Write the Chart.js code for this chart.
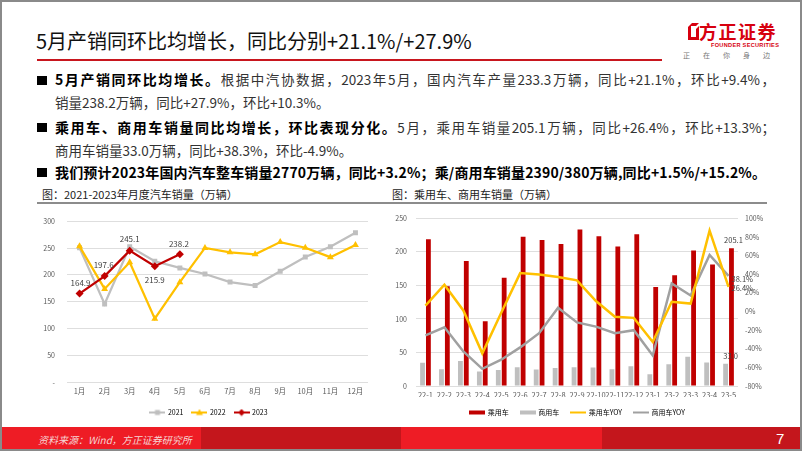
<!DOCTYPE html>
<html lang="zh-CN">
<head>
<meta charset="utf-8">
<title>5月产销同环比均增长</title>
<script src="https://cdn.jsdelivr.net/npm/chart.js@4.4.1/dist/chart.umd.min.js"></script>
<style>
  html, body { margin: 0; padding: 0; }
  body { width: 802px; height: 451px; position: relative; overflow: hidden; background: #fff;
         font-family: "Noto Sans CJK SC", "Noto Sans", sans-serif; color: #262626; }
  .frame { position: absolute; left: 0; top: 0; width: 802px; height: 451px; box-sizing: border-box;
           border: 2px solid #8a8a8a; pointer-events: none; z-index: 9; }
  .title { position: absolute; left: 36px; top: 27px; font-size: 20px; line-height: 28px; color: #111; white-space: nowrap; }
  .rule { position: absolute; left: 37px; top: 59px; width: 625px; height: 2px; background: #c8161e; }
  .logo-mark { position: absolute; left: 688px; top: 23px; }
  .logo-cn { position: absolute; left: 699px; top: 20px; font-size: 18px; line-height: 22px; font-weight: 700; color: #d7000f; letter-spacing: 1.5px; white-space: nowrap; }
  .logo-en { position: absolute; left: 711px; top: 42px; font: 700 5.6px "Liberation Sans", Arial, sans-serif; color: #d7000f; white-space: nowrap; letter-spacing: 0.3px; }
  .logo-slogan { position: absolute; left: 683px; top: 51px; font-size: 7px; line-height: 9px; color: #777; letter-spacing: 13px; white-space: nowrap; }
  .bul { position: absolute; left: 55px; font-size: 13.5px; line-height: 23px; white-space: nowrap; color: #333; }
  .bul b { color: #000; font-weight: 700; font-size: 14px; }
  .just { width: 720px; text-align: justify; text-align-last: justify; }
  .sq { position: absolute; left: 37px; width: 10px; height: 9px; background: #000; }
  .ctitle { position: absolute; top: 186px; font-size: 11px; line-height: 16px; color: #222; white-space: nowrap; }
  .cline { position: absolute; top: 202px; height: 2px; background: #8c8c8c; }
  .footer { position: absolute; left: 0; top: 427px; width: 802px; height: 23px; display: flex; }
  .footer div { flex: 1; }
  .f1 { background: #ee1c25; } .f2 { background: #c4161c; }
  .src { position: absolute; left: 38px; top: 433px; font-size: 10px; line-height: 14px; font-style: italic; color: #f7d4d4; white-space: nowrap; }
  .page { position: absolute; left: 776px; top: 429px; font: 15px/19px "Liberation Sans", Arial, sans-serif; color: #fff; }
  canvas { position: absolute; z-index: 3; }
</style>
</head>
<body>
<div class="title">5月产销同环比均增长，同比分别+21.1%/+27.9%</div>
<div class="rule"></div>

<svg class="logo-mark" width="11" height="17" viewBox="0 0 11 17">
  <path d="M4 0 H11 L8 3 H3 V14 H8 V6 L11 3 V17 H0 V4 Z" fill="#d7000f"/>
</svg>
<div class="logo-cn">方正证券</div>
<div class="logo-en">FOUNDER SECURITIES</div>
<div class="logo-slogan">正在你身边</div>

<div class="sq" style="top:76px"></div>
<div class="bul just" style="top:68px"><b>5月产销同环比均增长。</b>根据中汽协数据，2023年5月，国内汽车产量233.3万辆，同比+21.1%，环比+9.4%，</div>
<div class="bul" style="top:91px">销量238.2万辆，同比+27.9%，环比+10.3%。</div>
<div class="sq" style="top:123px"></div>
<div class="bul just" style="top:116px"><b>乘用车、商用车销量同比均增长，环比表现分化。</b>5月，乘用车销量205.1万辆，同比+26.4%，环比+13.3%；</div>
<div class="bul" style="top:139px">商用车销量33.0万辆，同比+38.3%，环比-4.9%。</div>
<div class="sq" style="top:168px"></div>
<div class="bul" style="top:161px;letter-spacing:0.15px"><b>我们预计2023年国内汽车整车销量2770万辆，同比+3.2%；乘/商用车销量2390/380万辆,同比+1.5%/+15.2%。</b></div>

<div class="ctitle" style="left:42px">图：2021-2023年月度汽车销量（万辆）</div>
<div class="cline" style="left:37px;width:343px"></div>
<div class="ctitle" style="left:392px">图：乘用车、商用车销量（万辆）</div>
<div class="cline" style="left:380px;width:387px"></div>

<div class="footer"><div class="f1"></div><div class="f2"></div><div class="f1"></div><div class="f2"></div></div>
<div class="src">资料来源：Wind，方正证券研究所</div>
<div class="page">7</div>

<canvas id="monthly" width="378" height="221" style="left:20px;top:205px"></canvas>
<canvas id="split" width="395" height="221" style="left:380px;top:205px"></canvas>
<div class="frame"></div>

<script>
// 左图：月度汽车销量（万辆）
const monthLabels = ["1月", "2月", "3月", "4月", "5月", "6月", "7月", "8月", "9月", "10月", "11月", "12月"];
const sales2021 = [250.3, 145.5, 252.6, 225.2, 212.8, 201.5, 186.4, 179.9, 206.7, 233.1, 252.2, 278.6];
const sales2022 = [253.1, 173.7, 223.4, 118.1, 186.2, 250.2, 242.0, 238.3, 261.0, 250.5, 232.9, 255.6];
const sales2023 = [164.9, 197.6, 245.1, 215.9, 238.2];
const monthlyTicks = [0, 50, 100, 150, 200, 250, 300];

// 右图：乘用车、商用车销量（万辆）及同比
const periodLabels = ["22-1", "22-2", "22-3", "22-4", "22-5", "22-6", "22-7", "22-8", "22-9", "22-10", "22-11", "22-12",
                      "23-1", "23-2", "23-3", "23-4", "23-5"];
const passengerSales = [218.6, 148.7, 186.3, 96.5, 161.2, 222.2, 217.4, 211.6, 233.2, 223.1, 207.9, 226.2, 147.4, 165.1, 201.7, 180.9, 205.1];
const commercialSales = [34.5, 25.0, 37.1, 21.6, 24.0, 28.0, 24.6, 26.7, 27.8, 27.4, 25.0, 29.4, 17.5, 32.5, 43.4, 35.0, 33.0];
const passengerYoy = [6.3, 28.6, 1.0, -45.0, -1.4, 41.1, 39.7, 36.9, 33.4, 11.2, -5.8, -6.9, -32.7, 10.4, 8.4, 86.7, 26.4];
const commercialYoy = [-25.7, -17.0, -43.0, -61.6, -51.8, -38.6, -23.3, 3.9, -11.8, -16.3, -23.3, -20.1, -47.3, 30.0, 17.1, 60.5, 38.1];
const splitTicks = [0, 50, 100, 150, 200, 250];
const yoyTicks = [-80, -60, -40, -20, 0, 20, 40, 60, 80, 100];

const FONT = '"Noto Sans CJK SC", "Noto Sans", sans-serif';
const GRID = "#dedede";
const TICK = "#595959";
const RED = "#c00000";
const LIGHT_GRAY = "#bfbfbf";
const YELLOW = "#ffc000";
const DARK_GRAY = "#a0a0a0";

// 图例小图标（线+标记 / 色块）
function legendIcon(kind, color, marker) {
    const c = document.createElement("canvas");
    c.width = 16;
    c.height = 8;
    const g = c.getContext("2d");
    g.fillStyle = color;
    g.strokeStyle = color;
    if (kind === "bar") {
        g.fillRect(0, 2, 16, 4);
        return c;
    }
    g.lineWidth = 2;
    g.beginPath();
    g.moveTo(0, 4);
    g.lineTo(16, 4);
    g.stroke();
    g.beginPath();
    if (marker === "rect") {
        g.rect(5.5, 1.5, 5, 5);
    } else if (marker === "triangle") {
        g.moveTo(8, 0.5); g.lineTo(11.5, 6.5); g.lineTo(4.5, 6.5); g.closePath();
    } else if (marker === "diamond") {
        g.moveTo(8, 0.5); g.lineTo(11.5, 4); g.lineTo(8, 7.5); g.lineTo(4.5, 4); g.closePath();
    }
    g.fill();
    return c;
}

// 数据标签
const valueTags = {
    id: "valueTags",
    afterDatasetsDraw(chart, args, opts) {
        const ctx = chart.ctx;
        ctx.save();
        ctx.font = opts.font;
        ctx.fillStyle = opts.color;
        ctx.textBaseline = "middle";
        opts.items.forEach(it => {
            const el = chart.getDatasetMeta(it.ds).data[it.i];
            const v = chart.data.datasets[it.ds].data[it.i];
            ctx.textAlign = it.align || "center";
            ctx.fillText(v.toFixed(1) + (it.suffix || ""), el.x + (it.dx || 0), el.y + (it.dy || 0));
        });
        ctx.restore();
    }
};

function fixedTicks(values) {
    return scale => { scale.ticks = values.map(v => ({ value: v })); };
}

const tickFont = { family: FONT, size: 7 };

new Chart(document.getElementById("monthly"), {
    type: "line",
    data: {
        labels: monthLabels,
        datasets: [
            { label: "2021", data: sales2021, borderColor: LIGHT_GRAY, backgroundColor: LIGHT_GRAY, borderWidth: 2.25,
              pointStyle: "rect", pointRadius: 3.5, pointBorderWidth: 0, tension: 0, order: 3 },
            { label: "2022", data: sales2022, borderColor: YELLOW, backgroundColor: YELLOW, borderWidth: 2.25,
              pointStyle: "triangle", pointRadius: 4, pointBorderWidth: 0, tension: 0, order: 2 },
            { label: "2023", data: sales2023, borderColor: RED, backgroundColor: RED, borderWidth: 2.25,
              pointStyle: "rectRot", pointRadius: 4, pointBorderWidth: 0, tension: 0, order: 1 }
        ]
    },
    options: {
        responsive: false,
        animation: false,
        events: [],
        layout: { padding: { top: 11, right: 0, left: 0, bottom: 0 } },
        scales: {
            x: {
                offset: true,
                grid: { display: false, drawTicks: false },
                border: { display: false },
                ticks: { color: TICK, font: { family: FONT, size: 7.5 }, padding: 4.5, maxRotation: 0, autoSkip: false },
                afterFit(s) { s.height = 18; }
            },
            y: {
                min: 0, max: 300,
                afterBuildTicks: fixedTicks(monthlyTicks),
                grid: { color: GRID, drawTicks: false },
                border: { display: false },
                ticks: { color: TICK, font: tickFont, padding: 12, callback: v => v === 0 ? "-" : v },
                afterFit(s) { s.width = 47; }
            },
            // 右侧留白（不显示），让图例与原图一样居中在绘图区下方
            spacer: {
                position: "right",
                grid: { display: false, drawTicks: false },
                border: { display: false },
                ticks: { display: false },
                afterFit(s) { s.width = 30; }
            }
        },
        plugins: {
            tooltip: { enabled: false },
            legend: {
                position: "bottom",
                labels: {
                    usePointStyle: true, pointStyleWidth: 14, padding: 9, color: TICK, font: { family: FONT, size: 7 },
                    generateLabels: () => [
                        { text: "2021", pointStyle: legendIcon("line", LIGHT_GRAY, "rect"), lineWidth: 0, hidden: false, datasetIndex: 0 },
                        { text: "2022", pointStyle: legendIcon("line", YELLOW, "triangle"), lineWidth: 0, hidden: false, datasetIndex: 1 },
                        { text: "2023", pointStyle: legendIcon("line", RED, "diamond"), lineWidth: 0, hidden: false, datasetIndex: 2 }
                    ]
                }
            },
            valueTags: {
                font: "8px " + FONT,
                color: "#404040",
                items: [
                    { ds: 2, i: 0, dx: 1, dy: -11 },
                    { ds: 2, i: 1, dx: -1, dy: -11 },
                    { ds: 2, i: 2, dx: 0, dy: -12 },
                    { ds: 2, i: 3, dx: 0, dy: 14 },
                    { ds: 2, i: 4, dx: -1, dy: -10 }
                ]
            }
        }
    },
    plugins: [valueTags]
});

new Chart(document.getElementById("split"), {
    type: "bar",
    data: {
        labels: periodLabels,
        datasets: [
            { type: "bar", label: "乘用车", data: passengerSales, backgroundColor: RED, yAxisID: "y", order: 4,
              categoryPercentage: 0.62, barPercentage: 0.82 },
            { type: "bar", label: "商用车", data: commercialSales, backgroundColor: LIGHT_GRAY, yAxisID: "y", order: 3,
              categoryPercentage: 0.62, barPercentage: 0.82 },
            { type: "line", label: "乘用车YOY", data: passengerYoy, borderColor: YELLOW, borderWidth: 2.5,
              pointRadius: 0, tension: 0, yAxisID: "y1", order: 1 },
            { type: "line", label: "商用车YOY", data: commercialYoy, borderColor: DARK_GRAY, borderWidth: 2.5,
              pointRadius: 0, tension: 0, yAxisID: "y1", order: 2 }
        ]
    },
    options: {
        responsive: false,
        animation: false,
        events: [],
        layout: { padding: { top: 8, right: 0, left: 0, bottom: 0 } },
        scales: {
            x: {
                grid: { display: false, drawTicks: false },
                border: { display: false },
                ticks: { color: TICK, font: { family: FONT, size: 7.5 }, padding: 4.5, maxRotation: 0, autoSkip: false },
                afterFit(s) { s.height = 11; }
            },
            y: {
                position: "left",
                min: 0, max: 250,
                afterBuildTicks: fixedTicks(splitTicks),
                grid: { color: GRID, drawTicks: false },
                border: { display: false },
                ticks: { color: TICK, font: tickFont, padding: 9 },
                afterFit(s) { s.width = 36; }
            },
            y1: {
                position: "right",
                min: -80, max: 100,
                afterBuildTicks: fixedTicks(yoyTicks),
                grid: { display: false, drawTicks: false },
                border: { display: false },
                ticks: { color: TICK, font: tickFont, padding: 7, callback: v => v + "%" },
                afterFit(s) { s.width = 37; }
            }
        },
        plugins: {
            tooltip: { enabled: false },
            legend: {
                position: "bottom",
                labels: {
                    usePointStyle: true, pointStyleWidth: 14, padding: 12, color: TICK, font: { family: FONT, size: 7 },
                    generateLabels: () => [
                        { text: "乘用车", pointStyle: legendIcon("bar", RED), lineWidth: 0, hidden: false, datasetIndex: 0 },
                        { text: "商用车", pointStyle: legendIcon("bar", LIGHT_GRAY), lineWidth: 0, hidden: false, datasetIndex: 1 },
                        { text: "乘用车YOY", pointStyle: legendIcon("line", YELLOW), lineWidth: 0, hidden: false, datasetIndex: 2 },
                        { text: "商用车YOY", pointStyle: legendIcon("line", DARK_GRAY), lineWidth: 0, hidden: false, datasetIndex: 3 }
                    ]
                }
            },
            valueTags: {
                font: "7.5px " + FONT,
                color: "#404040",
                items: [
                    { ds: 0, i: 16, dx: 2, dy: -8 },
                    { ds: 1, i: 16, dx: 5, dy: -8 },
                    { ds: 3, i: 16, dx: 3, dy: 3, align: "left", suffix: "%" },
                    { ds: 2, i: 16, dx: 3, dy: 1, align: "left", suffix: "%" }
                ]
            }
        }
    },
    plugins: [valueTags]
});
</script>
</body>
</html>
